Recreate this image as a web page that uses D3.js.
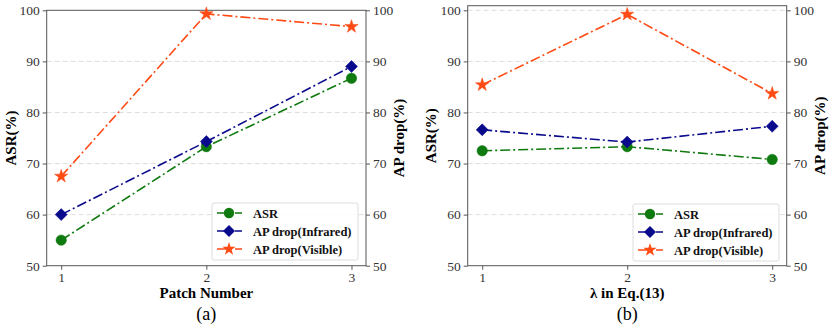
<!DOCTYPE html>
<html>
<head>
<meta charset="utf-8">
<script src="https://cdn.jsdelivr.net/npm/d3@7"></script>
<style>
  body { margin: 0; background: #fff; }
  svg { font-family: "Liberation Serif", "DejaVu Serif", serif; }
</style>
</head>
<body>
<svg width="831" height="327"></svg>
<script>
// data
let xTicks = [1, 2, 3];
let seriesNames = ["ASR", "AP drop(Infrared)", "AP drop(Visible)"];
let asrA = [55.0, 73.3, 86.7];
let infraredA = [60.0, 74.3, 89.0];
let visibleA = [67.5, 99.3, 96.8];
let asrB = [72.5, 73.3, 70.8];
let infraredB = [76.6, 74.2, 77.3];
let visibleB = [85.4, 99.2, 83.7];
let yTicks = [50, 60, 70, 80, 90, 100];

let colors = ["#0f7a0f", "#0a0a8c", "#ff4a14"];
let symbols = [d3.symbolCircle, d3.symbolSquare, d3.symbolStar];
let symSizes = [85, 72, 55];
let symRot = [0, 45, 0];

let svg = d3.select("svg");

var drawPanel = function(opts)
{
  let g = svg.append("g");
  let x = d3.scaleLinear().domain([0.9, 3.1]).range([opts.left, opts.right]);
  let y = d3.scaleLinear().domain([50, opts.yMax]).range([opts.bottom, opts.top]);

  // grid
  g.selectAll("line.grid").data(yTicks.filter(d => d > 50 && (d < 100 || opts.grid100)))
    .enter().append("line")
    .attr("x1", opts.left).attr("x2", opts.right)
    .attr("y1", d => y(d)).attr("y2", d => y(d))
    .attr("stroke", "#d6d6d6").attr("stroke-width", 0.8)
    .attr("stroke-dasharray", "5,3");

  let yLeft = d3.axisLeft(y).tickValues(yTicks).tickSize(4).tickPadding(3);
  let yRight = d3.axisRight(y).tickValues(yTicks).tickSize(4).tickPadding(3);
  let xAxis = d3.axisBottom(x).tickValues(xTicks).tickFormat(d3.format("d")).tickSize(4).tickPadding(3);

  [[yLeft, "translate(" + opts.left + ",0)"],
   [yRight, "translate(" + opts.right + ",0)"],
   [xAxis, "translate(0," + opts.bottom + ")"]].forEach(function(a) {
    let ag = g.append("g").attr("transform", a[1]).call(a[0]);
    ag.select(".domain").remove();
    ag.selectAll("line").attr("stroke", "#555");
    ag.selectAll("text").attr("font-size", 13.5).attr("fill", "#333")
      .attr("font-family", "Liberation Serif");
  });

  g.append("rect")
    .attr("x", opts.left).attr("y", opts.top)
    .attr("width", opts.right - opts.left).attr("height", opts.bottom - opts.top)
    .attr("fill", "none").attr("stroke", "#555").attr("stroke-width", 1);

  let line = d3.line().x((d, i) => x(xTicks[i])).y(d => y(d));
  opts.series.forEach(function(s, k) {
    g.append("path").datum(s)
      .attr("d", line)
      .attr("fill", "none").attr("stroke", colors[k]).attr("stroke-width", 1.6)
      .attr("stroke-dasharray", "10,3,2,3");
    g.selectAll("path.m" + k).data(s).enter().append("path")
      .attr("transform", (d, i) => "translate(" + x(xTicks[i]) + "," + y(d) + ") rotate(" + symRot[k] + ")")
      .attr("d", d3.symbol().type(symbols[k]).size(symSizes[k]))
      .attr("fill", colors[k]).attr("stroke", colors[k]).attr("stroke-width", 0.5);
  });

  // legend
  let lg = g.append("g");
  lg.append("rect")
    .attr("x", opts.legX).attr("y", opts.legY)
    .attr("width", 146).attr("height", 57).attr("rx", 2)
    .attr("fill", "white").attr("fill-opacity", 0.85)
    .attr("stroke", "#ddd");
  seriesNames.forEach(function(n, k) {
    let yy = opts.legY + 10 + k * 18;
    lg.append("line")
      .attr("x1", opts.legX + 5).attr("x2", opts.legX + 30)
      .attr("y1", yy).attr("y2", yy)
      .attr("stroke", colors[k]).attr("stroke-width", 1.6)
      .attr("stroke-dasharray", "10,3,2,3");
    lg.append("path")
      .attr("transform", "translate(" + (opts.legX + 17) + "," + yy + ") rotate(" + symRot[k] + ")")
      .attr("d", d3.symbol().type(symbols[k]).size(symSizes[k]))
      .attr("fill", colors[k]);
    lg.append("text")
      .attr("x", opts.legX + 41).attr("y", yy + 4.5)
      .attr("font-size", 12.5).attr("font-weight", "bold").attr("fill", "#111")
      .text(n);
  });

  svg.append("text")
    .attr("transform", "translate(" + opts.yLabelL + "," + ((opts.top + opts.bottom) / 2) + ") rotate(-90)")
    .attr("text-anchor", "middle").attr("font-size", 15).attr("font-weight", "bold")
    .text("ASR(%)");
  svg.append("text")
    .attr("transform", "translate(" + opts.yLabelR + "," + ((opts.top + opts.bottom) / 2) + ") rotate(-90)")
    .attr("text-anchor", "middle").attr("font-size", 15).attr("font-weight", "bold")
    .text("AP drop(%)");
  svg.append("text")
    .attr("x", (opts.left + opts.right) / 2).attr("y", 298)
    .attr("text-anchor", "middle").attr("font-size", 15).attr("font-weight", "bold")
    .text(opts.xLabel);
  svg.append("text")
    .attr("x", (opts.left + opts.right) / 2).attr("y", 320)
    .attr("text-anchor", "middle").attr("font-size", 18)
    .text(opts.caption);
};

drawPanel({
  left: 46.7, right: 366, top: 10.3, bottom: 265.7, yMax: 100, grid100: false,
  series: [asrA, infraredA, visibleA],
  legX: 212, legY: 203,
  yLabelL: 16, yLabelR: 404,
  xLabel: "Patch Number", caption: "(a)"
});

drawPanel({
  left: 467.7, right: 786.7, top: 5.7, bottom: 265.7, yMax: 100.9, grid100: true,
  series: [asrB, infraredB, visibleB],
  legX: 633, legY: 204,
  yLabelL: 436, yLabelR: 825,
  xLabel: "λ in Eq.(13)", caption: "(b)"
});
</script>
</body>
</html>
